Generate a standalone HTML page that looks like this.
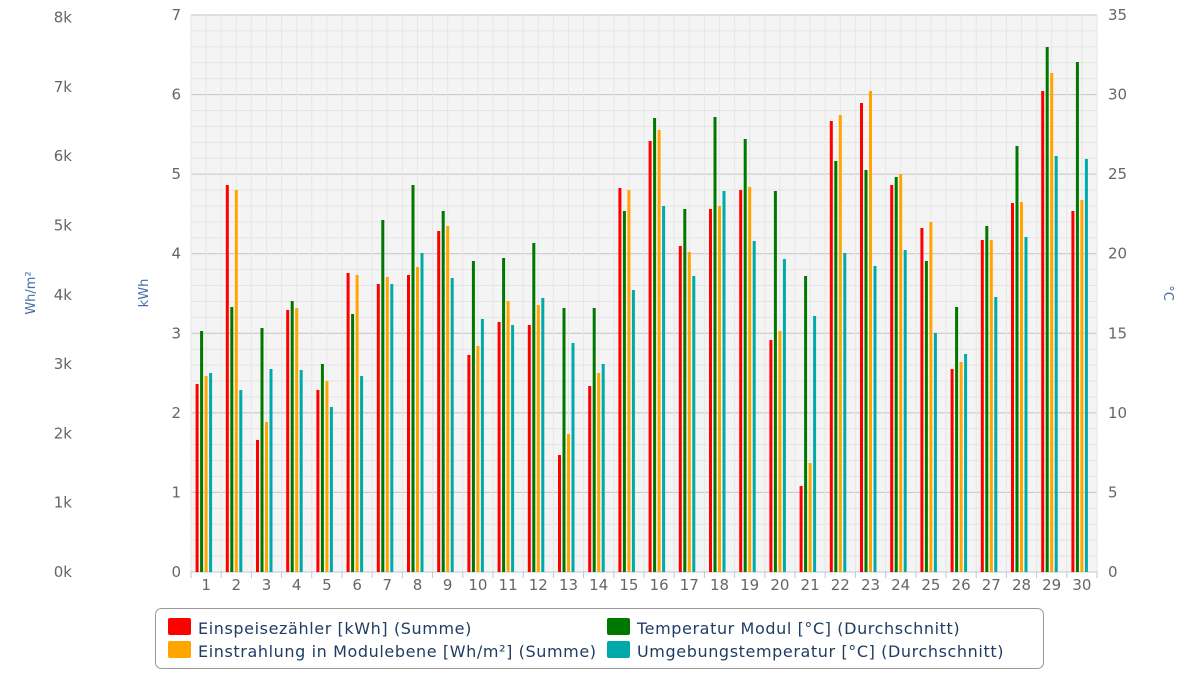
<!DOCTYPE html><html><head><meta charset="utf-8"><style>body{margin:0;background:#fff}svg{display:block}text{font-family:"DejaVu Sans","Liberation Sans",sans-serif}</style></head><body>
<svg id="s" width="1200" height="693" xmlns="http://www.w3.org/2000/svg"></svg>
<script>
const s=document.getElementById('s');let h='';
const L=191,R=1097,T=15,B=572;
h+=`<rect x="${L}" y="${T}" width="${R-L}" height="${B-T}" fill="#f4f4f4"/>`;
for(let i=0;i<=35;i++){let y=B-(B-T)*i/35;h+=`<line x1="${L}" x2="${R}" y1="${y}" y2="${y}" stroke="${i%5==0?'#c4c4c4':'#e4e4e4'}" stroke-width="1"/>`;}
const cw=(R-L)/30;
for(let i=0;i<=60;i++){let x=L+cw*i/2;h+=`<line x1="${x}" x2="${x}" y1="${T}" y2="${B}" stroke="#e6e6e6"/>`;}
h+=`<line x1="${L}" x2="${R}" y1="${B}" y2="${B}" stroke="#b8c8d8"/>`;
for(let i=0;i<=30;i++){let x=L+cw*i;h+=`<line x1="${x}" x2="${x}" y1="${B}" y2="${B+6}" stroke="#b8c8d8"/>`;}
const d=[[384,331,376,373],[185,307,190,390],[440,328,422,369],[310,301,308,370],[390,364,381,407],[273,314,275,376],[284,220,277,284],[275,185,267,253],[231,211,226,278],[355,261,346,319],[322,258,301,325],[325,243,305,298],[455,308,434,343],[386,308,373,364],[188,211,190,290],[141,118,130,206],[246,209,252,276],[209,117,206,191],[190,139,187,241],[340,191,331,259],[486,276,463,316],[121,161,115,253],[103,170,91,266],[185,177,174,250],[228,261,222,333],[369,307,362,354],[240,226,240,297],[203,146,202,237],[91,47,73,156],[211,62,200,159]];
const col=['#ff0000','#007800','#ffa500','#00aaaa'],off=[-9,-4.5,0,4.5];
d.forEach((g,i)=>{let c=L+cw*(i+0.5);g.forEach((t,j)=>{h+=`<rect x="${c+off[j]-1.5}" y="${t}" width="3" height="${B-t}" fill="${col[j]}"/>`;});
h+=`<text x="${c}" y="590" font-size="15" fill="#666" text-anchor="middle">${i+1}</text>`;});
for(let i=0;i<=7;i++){let y=B-(B-T)*i/7;h+=`<text x="181" y="${y+5}" font-size="15" fill="#666" text-anchor="end">${i}</text>`;}
for(let i=0;i<=7;i++){let y=B-(B-T)*i/7;h+=`<text x="1108" y="${y+5}" font-size="15" fill="#666">${i*5}</text>`;}
for(let i=0;i<=8;i++){let y=572-69.3*i;h+=`<text x="72" y="${y+5}" font-size="15" fill="#666" text-anchor="end">${i}k</text>`;}
h+=`<text transform="translate(35,293) rotate(-90)" font-size="13" fill="#4a6fa5" text-anchor="middle">Wh/m²</text>`;
h+=`<text transform="translate(148,293) rotate(-90)" font-size="13" fill="#4a6fa5" text-anchor="middle">kWh</text>`;
h+=`<text transform="translate(1164,293) rotate(90)" font-size="13" fill="#4a6fa5" text-anchor="middle">°C</text>`;
h+=`<rect x="155.5" y="608.5" width="888" height="60" rx="6" fill="#fff" stroke="#999"/>`;
const lg=[[168,'#ff0000','Einspeisezähler [kWh] (Summe)',628],[168,'#ffa500','Einstrahlung in Modulebene [Wh/m²] (Summe)',651],[607,'#007800','Temperatur Modul [°C] (Durchschnitt)',628],[607,'#00aaaa','Umgebungstemperatur [°C] (Durchschnitt)',651]];
lg.forEach(([x,c,t,y])=>{h+=`<rect x="${x}" y="${y-10}" width="23" height="17" rx="2" fill="${c}"/><text x="${x+30}" y="${y+6}" font-size="16" fill="#1f3d63" letter-spacing="0.6">${t}</text>`;});
s.innerHTML=h;
</script></body></html>
